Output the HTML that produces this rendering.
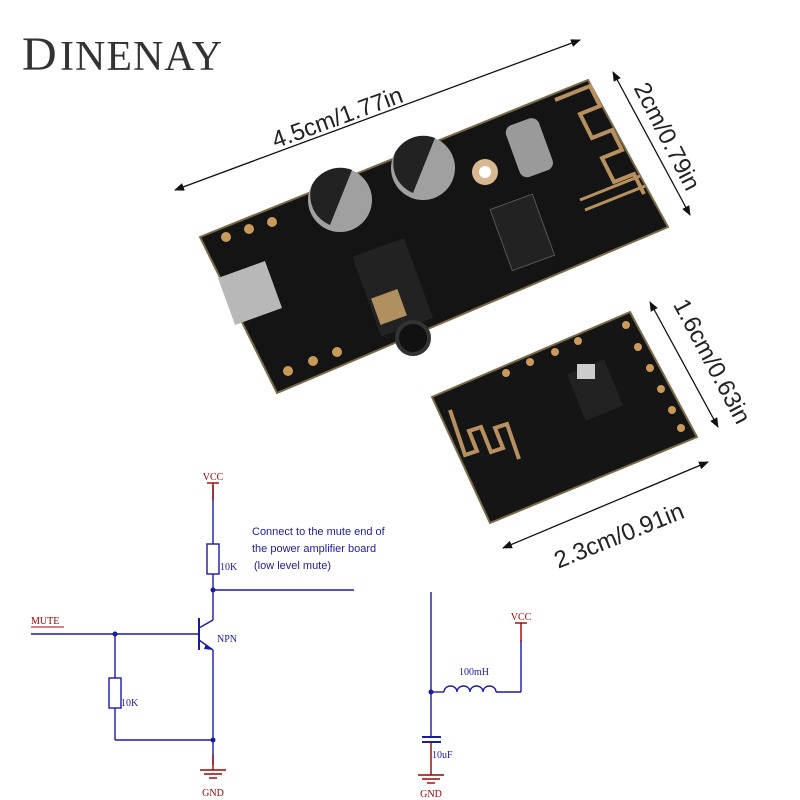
<!DOCTYPE html>
<html><head><meta charset="utf-8"><style>
body{margin:0;background:#fff}
svg{display:block}
</style></head><body>
<svg width="800" height="800" viewBox="0 0 800 800" xmlns="http://www.w3.org/2000/svg" font-family="Liberation Sans, sans-serif">
<defs>
<marker id="ah" markerWidth="10" markerHeight="8" refX="9" refY="4" orient="auto-start-reverse" markerUnits="userSpaceOnUse"><path d="M0,0 L10,4 L0,8 Z" fill="#111"/></marker>
</defs>
<!-- logo -->
<text x="22" y="70" font-family="Liberation Serif, serif" font-size="48" fill="#333">D</text>
<text x="60" y="70" font-family="Liberation Serif, serif" font-size="42" fill="#333" letter-spacing="1">INENAY</text>

<!-- big board -->
<polygon points="200,237 588,80 668,227 277,393" fill="#141414" stroke="#7a6a4a" stroke-width="2"/>
<path d="M555,100 l35,-14 l10,20 l-20,8 l12,24 l20,-8 l10,20 l-20,8 l12,24 l20,-8 l10,20" fill="none" stroke="#b89060" stroke-width="4"/>
<line x1="580" y1="200" x2="640" y2="176" stroke="#b89060" stroke-width="3"/>
<line x1="585" y1="210" x2="645" y2="186" stroke="#b89060" stroke-width="3"/>
<rect x="225" y="268" width="50" height="50" fill="#b8b8b8" transform="rotate(-20 250 293)"/>
<circle cx="485" cy="172" r="13" fill="#d8b890"/><circle cx="485" cy="172" r="6" fill="#fff"/>
<rect x="512" y="120" width="35" height="55" rx="8" fill="#9a9a9a" transform="rotate(-20 530 148)"/>
<rect x="500" y="200" width="45" height="65" fill="#222" stroke="#555" transform="rotate(-20 522 233)"/>
<rect x="365" y="245" width="55" height="85" fill="#222" transform="rotate(-20 392 287)"/>
<circle cx="413" cy="338" r="16" fill="#111" stroke="#333" stroke-width="4"/>
<rect x="375" y="293" width="28" height="28" fill="#b09060" transform="rotate(-20 389 307)"/>
<circle cx="340" cy="200" r="32" fill="#a0a0a0"/><path d="M312,185 A32,32 0 0 1 352,170 L330,225 A32,32 0 0 1 312,185Z" fill="#222"/>
<circle cx="423" cy="168" r="32" fill="#a0a0a0"/><path d="M395,153 A32,32 0 0 1 435,138 L413,193 A32,32 0 0 1 395,153Z" fill="#222"/>
<g fill="#c99a5a"><circle cx="226" cy="237" r="5"/><circle cx="249" cy="229" r="5"/><circle cx="272" cy="222" r="5"/><circle cx="288" cy="371" r="5"/><circle cx="313" cy="361" r="5"/><circle cx="337" cy="352" r="5"/></g>

<!-- small board -->
<polygon points="432,397 630,312 697,437 490,523" fill="#151515" stroke="#7a6a4a" stroke-width="2"/>
<path d="M450,410 l15,45 l12,-4 l-8,-20 l12,-4 l10,25 l12,-4 l-8,-20 l12,-4 l12,35" fill="none" stroke="#b89060" stroke-width="4"/>
<rect x="575" y="365" width="40" height="50" fill="#222" transform="rotate(-22 595 390)"/>
<rect x="577" y="364" width="18" height="15" fill="#ccc"/>
<g fill="#c99a5a"><circle cx="506" cy="373" r="4"/><circle cx="530" cy="362" r="4"/><circle cx="555" cy="352" r="4"/><circle cx="578" cy="341" r="4"/><circle cx="626" cy="325" r="4"/><circle cx="638" cy="347" r="4"/><circle cx="650" cy="368" r="4"/><circle cx="661" cy="389" r="4"/><circle cx="672" cy="410" r="4"/><circle cx="681" cy="428" r="4"/></g>

<!-- dimension arrows -->
<g stroke="#111" stroke-width="1.3" fill="none">
<line x1="175" y1="190" x2="580" y2="40" marker-start="url(#ah)" marker-end="url(#ah)"/>
<line x1="613" y1="72" x2="690" y2="215" marker-start="url(#ah)" marker-end="url(#ah)"/>
<line x1="650" y1="302" x2="718" y2="427" marker-start="url(#ah)" marker-end="url(#ah)"/>
<line x1="503" y1="548" x2="708" y2="462" marker-start="url(#ah)" marker-end="url(#ah)"/>
</g>
<g font-size="24" fill="#222">
<text transform="translate(340,125) rotate(-20)" text-anchor="middle">4.5cm/1.77in</text>
<text transform="translate(660,140) rotate(63)" text-anchor="middle">2cm/0.79in</text>
<text transform="translate(705,365) rotate(62)" text-anchor="middle">1.6cm/0.63in</text>
<text transform="translate(622,543) rotate(-22)" text-anchor="middle">2.3cm/0.91in</text>
</g>

<!-- schematic 1 -->
<g stroke="#1a1aa8" stroke-width="1.4" fill="none">
<line x1="213" y1="485" x2="213" y2="544"/>
<rect x="207" y="544" width="12" height="30"/>
<line x1="213" y1="574" x2="213" y2="620"/>
<line x1="213" y1="590" x2="354" y2="590"/>
<line x1="199" y1="618" x2="199" y2="650" stroke-width="2"/>
<line x1="199" y1="628" x2="213" y2="620"/>
<line x1="199" y1="640" x2="213" y2="650"/>
<line x1="213" y1="650" x2="213" y2="765"/>
<line x1="31" y1="634" x2="199" y2="634"/>
<line x1="115" y1="634" x2="115" y2="678"/>
<rect x="109" y="678" width="12" height="30"/>
<line x1="115" y1="708" x2="115" y2="740"/>
<line x1="115" y1="740" x2="213" y2="740"/>
</g>
<g fill="#1a1aa8"><circle cx="213" cy="590" r="2.5"/><circle cx="115" cy="634" r="2.5"/><circle cx="213" cy="740" r="2.5"/><path d="M206,644 L213,650 L204,649Z"/></g>
<g stroke="#a00000" stroke-width="1.4">
<line x1="213" y1="483" x2="213" y2="500"/><line x1="207" y1="483" x2="219" y2="483"/>
<line x1="213" y1="755" x2="213" y2="770"/>
<line x1="200" y1="770" x2="226" y2="770"/><line x1="204" y1="774" x2="222" y2="774"/><line x1="209" y1="778" x2="217" y2="778"/>
<line x1="31" y1="627" x2="64" y2="627" stroke-width="1"/>
</g>
<g font-family="Liberation Serif, serif" font-size="10" fill="#a00000">
<text x="213" y="480" text-anchor="middle">VCC</text>
<text x="213" y="796" text-anchor="middle">GND</text>
<text x="31" y="624">MUTE</text>
</g>
<g font-family="Liberation Serif, serif" font-size="10" fill="#1a1aa8">
<text x="220" y="570">10K</text><text x="121" y="706">10K</text><text x="217" y="642">NPN</text>
<text x="459" y="675">100mH</text><text x="432" y="758">10uF</text>
</g>
<g font-size="11" fill="#1a1aa8">
<text x="252" y="535">Connect to the mute end of</text>
<text x="252" y="552">the power amplifier board</text>
<text x="254" y="569">(low level mute)</text>
</g>

<!-- schematic 2 -->
<g stroke="#1a1aa8" stroke-width="1.4" fill="none">
<line x1="431" y1="592" x2="431" y2="737"/>
<line x1="431" y1="692" x2="444" y2="692"/>
<path d="M444,692 a6.5,6 0 0 1 13,0 a6.5,6 0 0 1 13,0 a6.5,6 0 0 1 13,0 a6.5,6 0 0 1 13,0"/>
<line x1="496" y1="692" x2="521" y2="692"/>
<line x1="521" y1="692" x2="521" y2="640"/>
<line x1="422" y1="737" x2="441" y2="737" stroke-width="2"/>
<line x1="422" y1="742" x2="441" y2="742" stroke-width="2"/>
</g>
<circle cx="431" cy="692" r="2.5" fill="#1a1aa8"/>
<g stroke="#a00000" stroke-width="1.4">
<line x1="521" y1="623" x2="521" y2="642"/><line x1="515" y1="623" x2="527" y2="623"/>
<line x1="431" y1="742" x2="431" y2="775"/>
<line x1="418" y1="775" x2="444" y2="775"/><line x1="422" y1="779" x2="440" y2="779"/><line x1="427" y1="783" x2="435" y2="783"/>
</g>
<g font-family="Liberation Serif, serif" font-size="10" fill="#a00000">
<text x="521" y="620" text-anchor="middle">VCC</text>
<text x="431" y="797" text-anchor="middle">GND</text>
</g>
</svg>
</body></html>
